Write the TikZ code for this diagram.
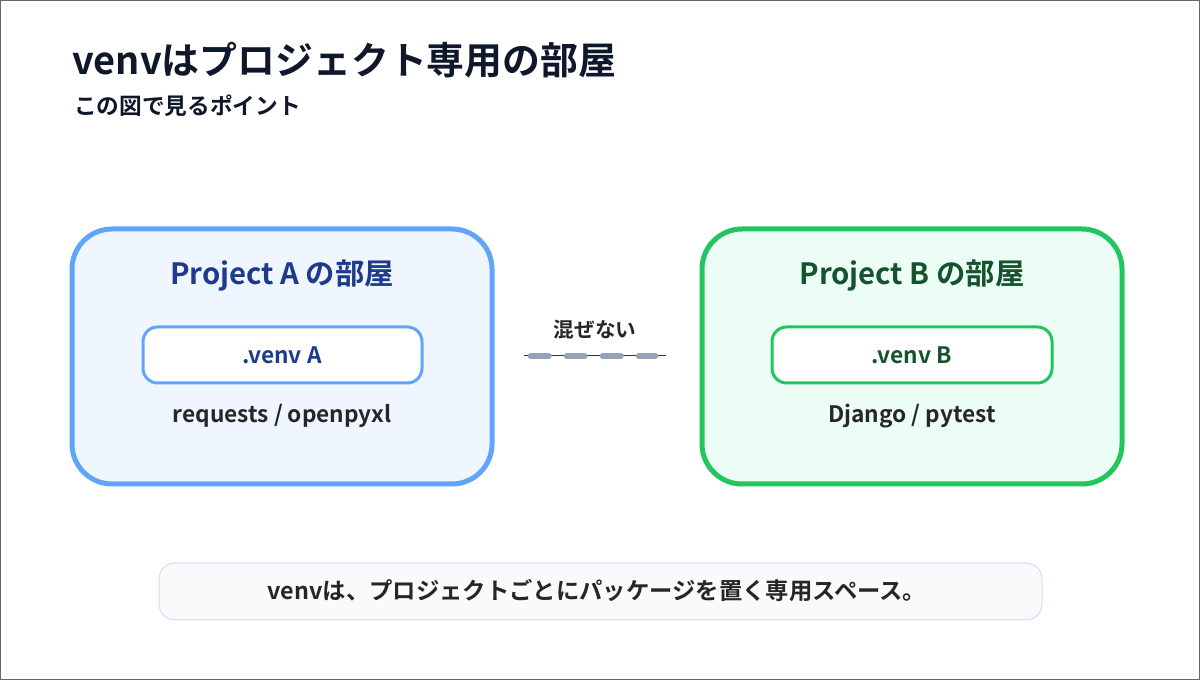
\documentclass[tikz,border=0pt]{standalone}
\usepackage{fontspec}
\setmainfont{Noto Sans CJK JP}[BoldFont={Noto Sans CJK JP Bold}]
\begin{document}
\begin{tikzpicture}[x=0.75pt,y=-0.75pt,
  room/.style={draw=#1,line width=3.75pt,rounded corners=30pt},
  env/.style={draw=#1,line width=2.25pt,fill=white,rounded corners=11pt},
  lbl/.style={font=\bfseries\fontsize{17}{20}\selectfont,text=black!85}]
\definecolor{ink}{HTML}{0F172A}
\definecolor{blueA}{HTML}{60A5FA}\definecolor{fillA}{HTML}{EFF6FF}
\definecolor{greenB}{HTML}{22C55E}\definecolor{fillB}{HTML}{ECFDF5}
\definecolor{gr}{HTML}{94A3B8}
\definecolor{tA}{HTML}{1E3A8A}\definecolor{tB}{HTML}{14532D}
\useasboundingbox (0,0) rectangle (1200,680);
\draw[black!60,line width=0.75pt] (0.5,0.5) rectangle (1199.5,679.5);
\node[anchor=west,inner sep=0pt,font=\bfseries\fontsize{28.4}{32}\selectfont,text=ink] (title) at (72,60) {venvはプロジェクト専用の部屋};
\node[anchor=west,inner sep=0pt,font=\bfseries\fontsize{17}{20}\selectfont,text=ink] (sub) at (74,106) {この図で見るポイント};
% room A
\draw[room=blueA,fill=fillA] (72,229) rectangle (492,484);
\node[font=\bfseries\fontsize{22}{25}\selectfont,text=tA] (ta) at (282,276) {Project A の部屋};
\draw[env=blueA] (143,327) rectangle (422,383);
\node[lbl,text=tA] (va) at (282,355) {.venv A};
\node[lbl] (pa) at (282,416) {requests / openpyxl};
% room B
\draw[room=greenB,fill=fillB] (702,229) rectangle (1122,484);
\node[font=\bfseries\fontsize{22}{25}\selectfont,text=tB] (tb) at (912,276) {Project B の部屋};
\draw[env=greenB] (772,327) rectangle (1052,383);
\node[lbl,text=tB] (vb) at (912,355) {.venv B};
\node[lbl] (pb) at (912,416) {Django / pytest};
% separator
\node[lbl,font=\bfseries\fontsize{15.5}{18}\selectfont] (mz) at (595,330) {混ぜない};
\coordinate (s1) at (524,356); \coordinate (s2) at (666,356);
\draw[black!80,line width=0.75pt] (s1) -- (s2);
\draw[gr,line width=4.5pt,line cap=round,dash pattern=on 13.5pt off 13.5pt] ([xshift=5]s1) -- ([xshift=-8]s2);
% bottom note
\draw[black!15!blue!5,fill={rgb,255:red,248;green,250;blue,252},draw={rgb,255:red,214;green,220;blue,228},line width=0.75pt,rounded corners=12pt] (159,563) rectangle (1042,620);
\node[lbl,font=\bfseries\fontsize{17.5}{20}\selectfont] (note) at (597,591) {venvは、プロジェクトごとにパッケージを置く専用スペース。};
\end{tikzpicture}
\end{document}
